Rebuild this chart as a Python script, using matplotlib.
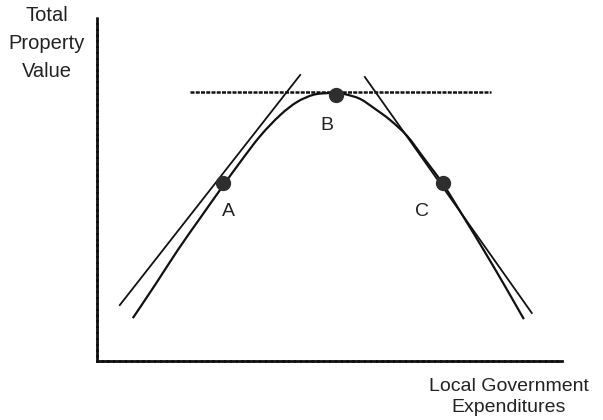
import matplotlib
matplotlib.use("Agg")
import matplotlib.pyplot as plt
from matplotlib.path import Path
from matplotlib.patches import PathPatch

plt.rcParams['font.family'] = ['Liberation Sans', 'DejaVu Sans']

# curve (axis units 0-100)
curve_x = [7.7, 12.5, 17.4, 22.2, 26.9, 30.8, 35.1, 39.4, 43.0, 46.5, 49.5, 51.4,
           53.3, 56.6, 59.8, 63.0, 66.7, 70.1, 74.4, 79.1, 83.4, 87.7, 91.8]
curve_y = [12.5, 22.2, 32.4, 41.7, 50.7, 58.0, 65.6, 71.7, 75.5, 77.6, 78.1, 78.1,
           77.8, 76.4, 73.5, 70.3, 65.6, 59.5, 51.6, 41.4, 31.8, 21.9, 12.2]

# tangent lines (start/end)
tan_a_x = [4.9, 43.7]
tan_a_y = [16.3, 83.4]
tan_b_x = [20.0, 84.7]
tan_b_y = [78.4, 78.4]
tan_c_x = [57.6, 93.5]
tan_c_y = [82.8, 14.0]

# points on curve
pt_names = ['A', 'B', 'C']
pt_x = [27.1, 51.4, 74.4]
pt_y = [51.9, 77.6, 51.9]
lbl_x = [28.2, 49.5, 69.9]
lbl_y = [43.6, 68.8, 43.6]

fig = plt.figure(figsize=(6.03, 4.20), dpi=100)
ax = fig.add_axes([97/603, 59/420, 465/603, 343/420])
ax.set_xlim(0, 100)
ax.set_ylim(0, 100)

# smooth path through the read points (catmull-rom -> bezier handles)
pts = list(zip(curve_x, curve_y))
verts = [pts[0]]
codes = [Path.MOVETO]
for i in range(len(pts) - 1):
    p0 = pts[max(i - 1, 0)]
    p1 = pts[i]
    p2 = pts[i + 1]
    p3 = pts[min(i + 2, len(pts) - 1)]
    c1 = (p1[0] + (p2[0] - p0[0]) / 6, p1[1] + (p2[1] - p0[1]) / 6)
    c2 = (p2[0] - (p3[0] - p1[0]) / 6, p2[1] - (p3[1] - p1[1]) / 6)
    verts += [c1, c2, p2]
    codes += [Path.CURVE4] * 3
ax.add_patch(PathPatch(Path(verts, codes), fill=False, edgecolor='#111111', lw=1.6))

ax.plot(tan_a_x, tan_a_y, color='#111111', lw=1.3)
ax.plot(tan_b_x, tan_b_y, color='#111111', lw=1.8, linestyle=(0, (1.6, 0.5)))
ax.plot(tan_c_x, tan_c_y, color='#111111', lw=1.3)
ax.plot(pt_x, pt_y, 'o', color='#2e2e2e', markersize=10, zorder=5)

for name, x, y in zip(pt_names, lbl_x, lbl_y):
    ax.text(x, y, name, ha='center', va='center', fontsize=14, color='#222222')

for side in ['top', 'right']:
    ax.spines[side].set_visible(False)
for side in ['left', 'bottom']:
    ax.spines[side].set_linewidth(2)
    ax.spines[side].set_linestyle((0, (1.6, 0.5)))
    ax.spines[side].set_color('#111111')
ax.set_xticks([])
ax.set_yticks([])

fig.text(47/603, 1 - 6/420, 'Total\nProperty\nValue', ha='center', va='top',
         fontsize=14.5, color='#222222', linespacing=1.6)
fig.text(509/603, 1 - 378/420, 'Local Government\nExpenditures', ha='center', va='top',
         fontsize=14, color='#222222', linespacing=1.3)

fig.savefig('out.png', dpi=100)
